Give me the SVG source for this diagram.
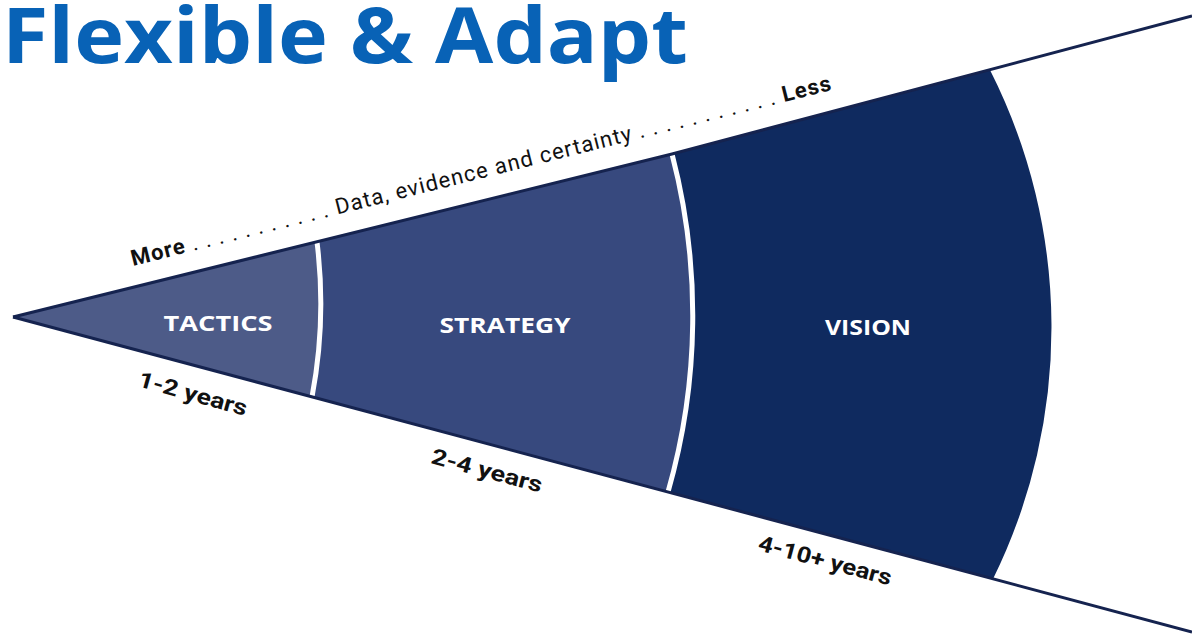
<svg xmlns="http://www.w3.org/2000/svg" width="1192" height="644" viewBox="0 0 1192 644">
<style>
.title{font-family:"Open Sans","Liberation Sans",sans-serif;font-weight:700;fill:#0862b6}
.seg{font-family:"Open Sans","Liberation Sans",sans-serif;font-weight:700;fill:#ffffff;font-size:21px}
.lbl{font-family:Roboto,"DejaVu Sans",sans-serif;fill:#111111;font-size:22px}
.b{font-weight:700}
.edge{fill:none;stroke:#15234f;stroke-width:3;stroke-linejoin:round}
.div{fill:none;stroke:#ffffff;stroke-width:5}
</style>
<rect width="1192" height="644" fill="#ffffff"/>
<g id="title">
<text class="title" x="2" y="63" font-size="77" textLength="686" lengthAdjust="spacingAndGlyphs">Flexible &amp; Adapt</text>
</g>
<g id="tactics">
<path d="M13,317 L317,242 A500,500 0 0 1 312,397 Z" fill="#4d5b88"/>
<text class="seg" x="218" y="331" text-anchor="middle" textLength="109" lengthAdjust="spacingAndGlyphs">TACTICS</text>
</g>
<g id="strategy">
<path d="M317,242 L672,154 A640,640 0 0 1 668,492 L312,397 A500,500 0 0 0 317,242 Z" fill="#37497e"/>
<text class="seg" x="505" y="333" text-anchor="middle" textLength="131" lengthAdjust="spacingAndGlyphs">STRATEGY</text>
</g>
<g id="vision">
<path d="M672,154 L990,70 A570,570 0 0 1 993,579 L668,492 A640,640 0 0 0 672,154 Z" fill="#0f2a5f"/>
<text class="seg" x="868" y="335" text-anchor="middle" textLength="86" lengthAdjust="spacingAndGlyphs">VISION</text>
</g>
<g id="connectors">
<path class="div" d="M317,242 A500,500 0 0 1 312,397"/>
<path class="div" d="M672,154 A640,640 0 0 1 668,492"/>
<path class="edge" d="M13,317 L672,154 L1192,16"/>
<path class="edge" d="M13,317 L1192,632"/>
</g>
<g id="labels">
<text class="lbl" transform="translate(133,266) rotate(-14.13)" textLength="721" lengthAdjust="spacing"><tspan class="b">More</tspan> . . . . . . . . . . . Data, evidence and certainty . . . . . . . . . . . <tspan class="b">Less</tspan></text>
<text class="lbl b" transform="translate(137,386) rotate(15.5)" textLength="112" lengthAdjust="spacingAndGlyphs">1-2 years</text>
<text class="lbl b" transform="translate(430,463) rotate(15)" textLength="114" lengthAdjust="spacingAndGlyphs">2-4 years</text>
<text class="lbl b" transform="translate(757,550) rotate(15)" textLength="137" lengthAdjust="spacingAndGlyphs">4-10+ years</text>
</g>
</svg>
